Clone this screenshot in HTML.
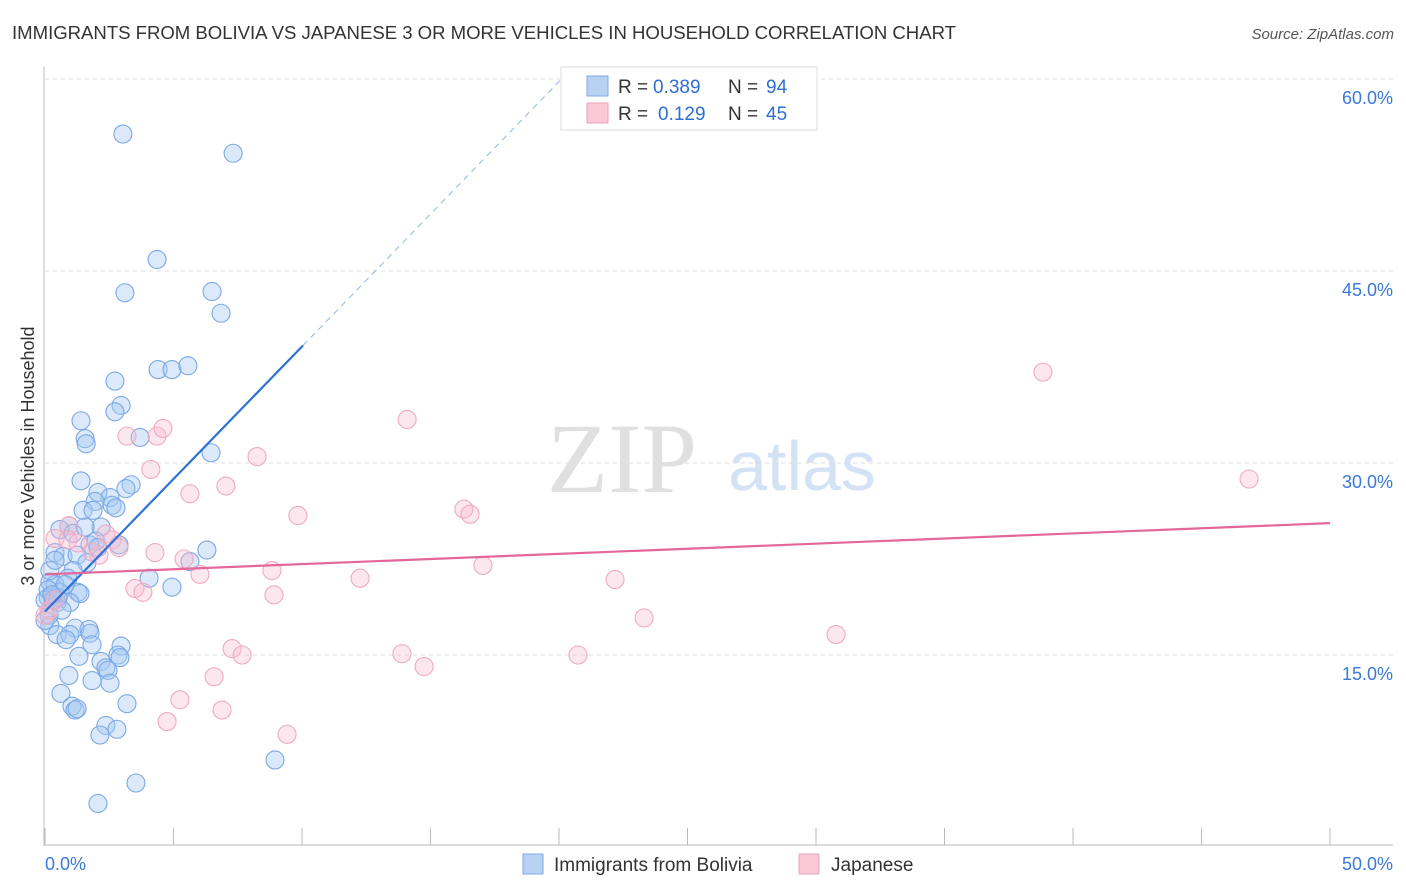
<!DOCTYPE html>
<html><head><meta charset="utf-8"><style>
body{margin:0;background:#fff;font-family:"Liberation Sans",sans-serif;}
svg{display:block}
</style></head><body>
<svg id="c" width="1406" height="892">
<text x="12" y="39" font-size="18.6" fill="#333" textLength="944">IMMIGRANTS FROM BOLIVIA VS JAPANESE 3 OR MORE VEHICLES IN HOUSEHOLD CORRELATION CHART</text>
<text x="1394" y="39" font-size="15" fill="#555" font-style="italic" text-anchor="end">Source: ZipAtlas.com</text>
<text x="622" y="492" font-size="100" fill="#e0e0e0" font-family="Liberation Serif,serif" text-anchor="middle">ZIP</text>
<text x="802" y="490" font-size="70" fill="#d3e2f5" text-anchor="middle">atlas</text>
<text transform="translate(34,456) rotate(-90)" font-size="18" fill="#333" text-anchor="middle">3 or more Vehicles in Household</text>
<g id="grid"></g><g id="pts"></g><g id="lines"></g>
<g>
<rect x="561" y="67" width="256" height="63" fill="#fff" stroke="#ddd"/>
<rect x="587" y="76" width="21" height="20" fill="#b8d2f4" stroke="#7fa8e0"/>
<rect x="587" y="103" width="21" height="20" fill="#fac8d7" stroke="#eba3bb"/>
<text x="618" y="93" font-size="19" fill="#333">R =</text>
<text x="653" y="93" font-size="19" fill="#2f6fd0">0.389</text>
<text x="728" y="93" font-size="19" fill="#333">N =</text>
<text x="766" y="93" font-size="19" fill="#2f6fd0">94</text>
<text x="618" y="120" font-size="19" fill="#333">R =</text>
<text x="658" y="120" font-size="19" fill="#2f6fd0">0.129</text>
<text x="728" y="120" font-size="19" fill="#333">N =</text>
<text x="766" y="120" font-size="19" fill="#2f6fd0">45</text>
</g>
<g>
<rect x="523" y="854" width="20" height="20" fill="#b8d2f4" stroke="#7fa8e0"/>
<text x="554" y="871" font-size="19" fill="#333">Immigrants from Bolivia</text>
<rect x="799" y="854" width="20" height="20" fill="#fac8d7" stroke="#eba3bb"/>
<text x="831" y="871" font-size="19" fill="#333">Japanese</text>
</g>
</svg>
<script>
const xTicks=[0,5,10,15,20,25,30,35,40,45,50];
const yTicks=[15,30,45,60];
const blueX=[3.03,7.32,4.36,3.11,6.50,6.85,4.40,4.94,5.56,2.72,2.96,2.72,1.40,3.70,1.56,1.60,6.46,1.40,3.35,3.15,2.06,2.53,1.95,1.48,1.87,2.61,2.76,0.93,2.18,0.58,1.09,1.56,1.75,1.98,2.88,6.30,0.39,0.70,1.25,2.06,1.63,1.09,0.89,0.19,4.05,0.39,0.58,1.28,0.12,4.94,1.36,0.47,0.97,5.64,0.16,0.19,1.17,1.71,1.75,0.47,0.97,0.82,1.83,2.96,1.32,2.18,2.37,2.45,2.84,2.92,2.53,1.83,0.93,0.62,1.05,1.17,1.25,3.19,2.37,2.14,2.80,8.95,3.54,2.06,0.0,0.12,0.31,0.51,0.0,0.66,0.19,0.39,0.78,0.27];
const blueY=[55.7,54.2,45.9,43.3,43.4,41.7,37.3,37.3,37.6,36.4,34.5,34.0,33.3,32.0,31.9,31.5,30.8,28.6,28.3,28.0,27.7,27.3,27.0,26.3,26.3,26.7,26.5,25.1,25.0,24.8,24.5,25.0,23.6,23.9,23.6,23.2,23.0,22.7,22.8,23.4,22.2,21.6,21.0,20.7,21.0,20.5,19.9,19.9,19.5,20.3,19.8,19.1,19.1,22.3,18.1,17.3,17.1,17.0,16.7,16.6,16.6,16.2,15.8,15.7,14.9,14.5,14.0,13.8,15.0,14.8,12.8,13.0,13.4,12.0,11.0,10.7,10.8,11.2,9.5,8.75,9.2,6.8,5.0,3.4,19.3,20.1,19.3,19.5,17.7,18.5,21.6,22.4,20.5,19.7];
const pinkX=[38.83,46.85,14.09,4.36,3.19,4.59,4.12,8.25,7.04,5.64,9.84,16.30,16.54,0.93,0.39,0.89,1.28,2.37,2.61,2.88,4.28,5.41,2.10,1.83,6.03,8.83,17.04,12.26,22.18,3.50,3.81,8.91,23.31,30.78,7.28,7.67,13.89,14.75,20.74,6.58,5.25,6.89,4.75,9.42,0.16,0.39,0.0];
const pinkY=[37.1,28.75,33.4,32.1,32.1,32.7,29.5,30.5,28.2,27.6,25.9,26.4,26.0,25.1,24.1,24.0,23.75,24.45,24.0,23.4,23.0,22.5,22.8,23.05,21.3,21.6,22.0,21.0,20.9,20.2,19.9,19.7,17.9,16.6,15.5,15.0,15.1,14.1,15.0,13.3,11.5,10.7,9.8,8.8,18.5,19.3,18.1];
const blueTrend=[18.4,2.07,10.04,20.1];
const pinkTrend=[21.3,25.3];
const NS='http://www.w3.org/2000/svg';
const X=v=>45+v*25.7, Y=v=>847-v*12.8;
function mk(tag,attrs,parent){const e=document.createElementNS(NS,tag);for(const k in attrs)e.setAttribute(k,attrs[k]);document.getElementById(parent).appendChild(e);return e;}
yTicks.forEach(t=>{
 const l=mk('line',{x1:45,x2:1393,y1:Y(t),y2:Y(t),stroke:'#ddd','stroke-dasharray':'4,4'},'grid');
 
 
 const tx=mk('text',{x:1393,y:Y(t)+25,'font-size':18,fill:'#3b78d8','text-anchor':'end'},'grid');
 tx.textContent=t.toFixed(1)+'%';
 
 
});
const ax=mk('line',{x1:44,x2:44,y1:67,y2:846,stroke:'#bbb'},'grid');


const bx=mk('line',{x1:44,x2:1393,y1:845,y2:845,stroke:'#bbb'},'grid');


xTicks.forEach(t=>{
 const l=mk('line',{x1:X(t),x2:X(t),y1:828,y2:845,stroke:'#bbb'},'grid');
 
 
});
[[0,'start',45],[50,'end',1393]].forEach(([t,a,px])=>{
 const tx=mk('text',{x:px,y:870,'font-size':18,fill:'#3b78d8','text-anchor':a},'grid');
 tx.textContent=t.toFixed(1)+'%';
 
 
});
blueX.forEach((v,i)=>{
 const c=mk('circle',{cx:X(v),cy:Y(blueY[i]),r:9,fill:'rgba(165,200,242,0.4)',stroke:'#7aa8e6','stroke-width':1.1},'pts');
 
 
});
pinkX.forEach((v,i)=>{
 const c=mk('circle',{cx:X(v),cy:Y(pinkY[i]),r:9,fill:'rgba(248,185,205,0.35)',stroke:'#eeaac2','stroke-width':1.1},'pts');
 
 
});
const [b0,b1,bs,bd]=blueTrend;
const t1=mk('line',{x1:X(0),y1:Y(b0),x2:X(bs),y2:Y(b0+b1*bs),stroke:'#2c72d6','stroke-width':2.2},'lines');


const t2=mk('line',{x1:X(bs),y1:Y(b0+b1*bs),x2:X(bd),y2:Y(b0+b1*bd),stroke:'#8fb5e8','stroke-width':1,'stroke-dasharray':'6,5'},'lines');


const t3=mk('line',{x1:X(0),y1:Y(pinkTrend[0]),x2:X(50),y2:Y(pinkTrend[1]),stroke:'#e4679a','stroke-width':2.2},'lines');


</script>
</body></html>
